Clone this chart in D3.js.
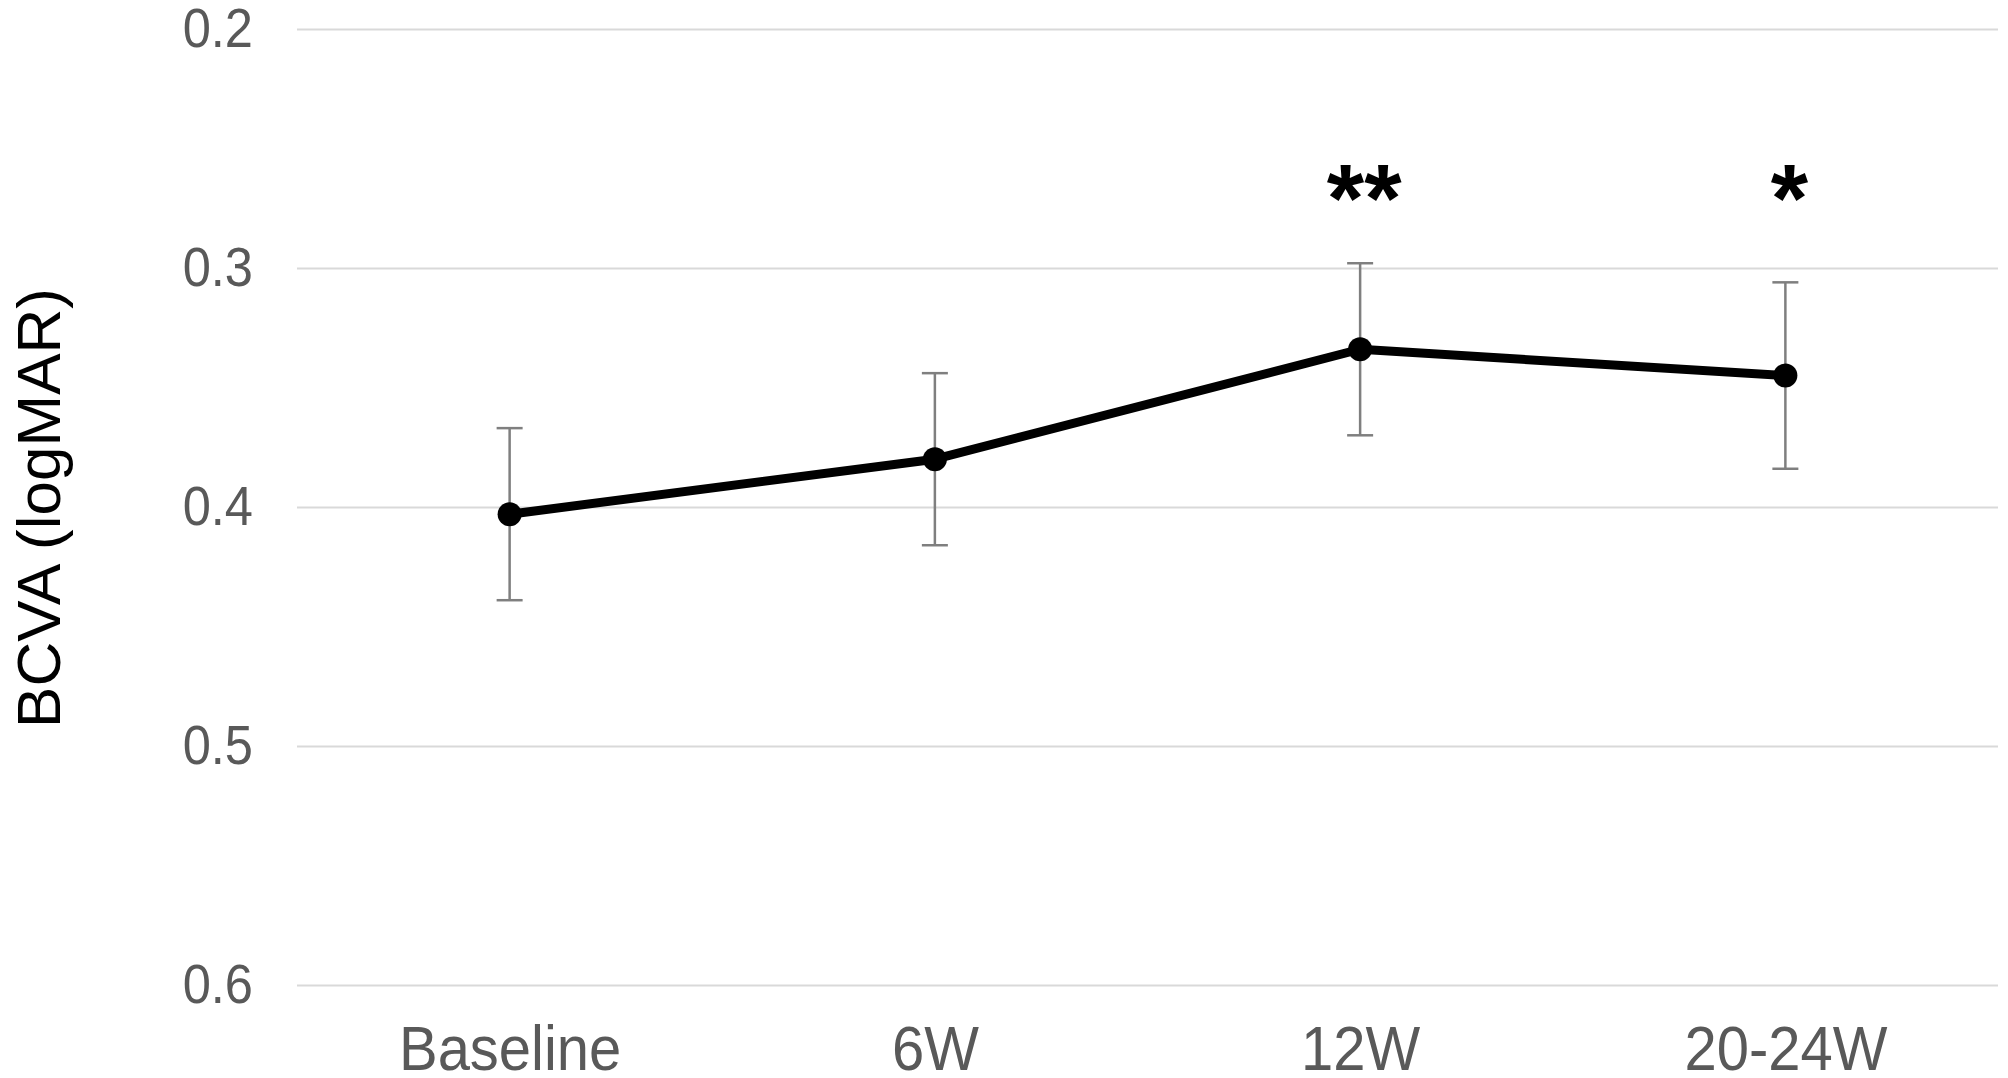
<!DOCTYPE html>
<html>
<head>
<meta charset="utf-8">
<script src="https://cdn.jsdelivr.net/npm/d3@7"></script>
<style>
  body { margin: 0; background: #fff; }
  svg { display: block; }
</style>
</head>
<body>
<div id="chart"></div>
<script>
// values
const categories = ["Baseline", "6W", "12W", "20-24W"];
const means = [0.403, 0.380, 0.334, 0.345];
const errors = [0.036, 0.036, 0.036, 0.039];
const marks = ["", "", "**", "*"];
const markLevel = 0.2845;
const yTicks = [0.2, 0.3, 0.4, 0.5, 0.6];

const width = 2008;
const height = 1078;
const plotLeft = 297, plotRight = 1998, plotTop = 29, plotBottom = 985;
const squeeze = 0.92; // labels look slightly condensed

const data = categories.map((c, i) => ({ cat: c, mean: means[i], err: errors[i], mark: marks[i] }));

const svg = d3.select("#chart")
  .append("svg")
  .attr("width", width)
  .attr("height", height);

const x = d3.scalePoint()
  .domain(categories)
  .range([plotLeft, plotRight])
  .padding(0.5);

// logMAR axis runs downward: 0.2 at the top
const y = d3.scaleLinear()
  .domain([0.2, 0.6])
  .range([plotTop, plotBottom]);

function condense(sel) {
  sel.each(function() {
    const w = this.getComputedTextLength();
    d3.select(this)
      .attr("textLength", w * squeeze)
      .attr("lengthAdjust", "spacingAndGlyphs");
  });
}

// y axis with gridlines
const yAxis = svg.append("g")
  .attr("transform", `translate(${plotLeft},0)`)
  .call(d3.axisLeft(y).tickValues(yTicks).tickSize(-(plotRight - plotLeft)).tickFormat(d3.format(".1f")));

yAxis.select(".domain").remove();
yAxis.selectAll(".tick line")
  .attr("stroke", "#d9d9d9")
  .attr("stroke-width", 2);
yAxis.selectAll(".tick text")
  .attr("x", -44)
  .attr("fill", "#595959")
  .style("font-family", "'Liberation Sans', Arial, sans-serif")
  .style("font-size", "55px")
  .call(condense);

// x axis labels
const xAxis = svg.append("g")
  .attr("transform", `translate(0,${plotBottom})`)
  .call(d3.axisBottom(x).tickSize(0));

xAxis.select(".domain").remove();
xAxis.selectAll(".tick text")
  .attr("y", 85)
  .attr("dy", 0)
  .attr("fill", "#595959")
  .style("font-family", "'Liberation Sans', Arial, sans-serif")
  .style("font-size", "63px")
  .call(condense);

// axis title
svg.append("text")
  .attr("transform", "translate(60,508) rotate(-90)")
  .attr("text-anchor", "middle")
  .attr("fill", "#000")
  .style("font-family", "'Liberation Sans', Arial, sans-serif")
  .style("font-size", "62px")
  .text("BCVA (logMAR)");

// error bars
const bars = svg.append("g")
  .attr("stroke", "#7f7f7f")
  .attr("stroke-width", 2.5)
  .selectAll("g")
  .data(data)
  .join("g");

bars.append("line")
  .attr("x1", d => x(d.cat))
  .attr("x2", d => x(d.cat))
  .attr("y1", d => y(d.mean - d.err))
  .attr("y2", d => y(d.mean + d.err));

bars.append("line")
  .attr("x1", d => x(d.cat) - 13)
  .attr("x2", d => x(d.cat) + 13)
  .attr("y1", d => y(d.mean - d.err))
  .attr("y2", d => y(d.mean - d.err));

bars.append("line")
  .attr("x1", d => x(d.cat) - 13)
  .attr("x2", d => x(d.cat) + 13)
  .attr("y1", d => y(d.mean + d.err))
  .attr("y2", d => y(d.mean + d.err));

// mean line and markers
const line = d3.line()
  .x(d => x(d.cat))
  .y(d => y(d.mean));

svg.append("path")
  .datum(data)
  .attr("fill", "none")
  .attr("stroke", "#000")
  .attr("stroke-width", 9)
  .attr("stroke-linejoin", "round")
  .attr("d", line);

svg.append("g")
  .selectAll("circle")
  .data(data)
  .join("circle")
  .attr("cx", d => x(d.cat))
  .attr("cy", d => y(d.mean))
  .attr("r", 12)
  .attr("fill", "#000");

// significance marks
svg.append("g")
  .selectAll("text")
  .data(data.filter(d => d.mark))
  .join("text")
  .attr("x", d => x(d.cat) + 4)
  .attr("y", y(markLevel))
  .attr("text-anchor", "middle")
  .attr("fill", "#000")
  .style("font-family", "'Liberation Sans', Arial, sans-serif")
  .style("font-size", "96px")
  .style("font-weight", "bold")
  .text(d => d.mark);
</script>
</body>
</html>
